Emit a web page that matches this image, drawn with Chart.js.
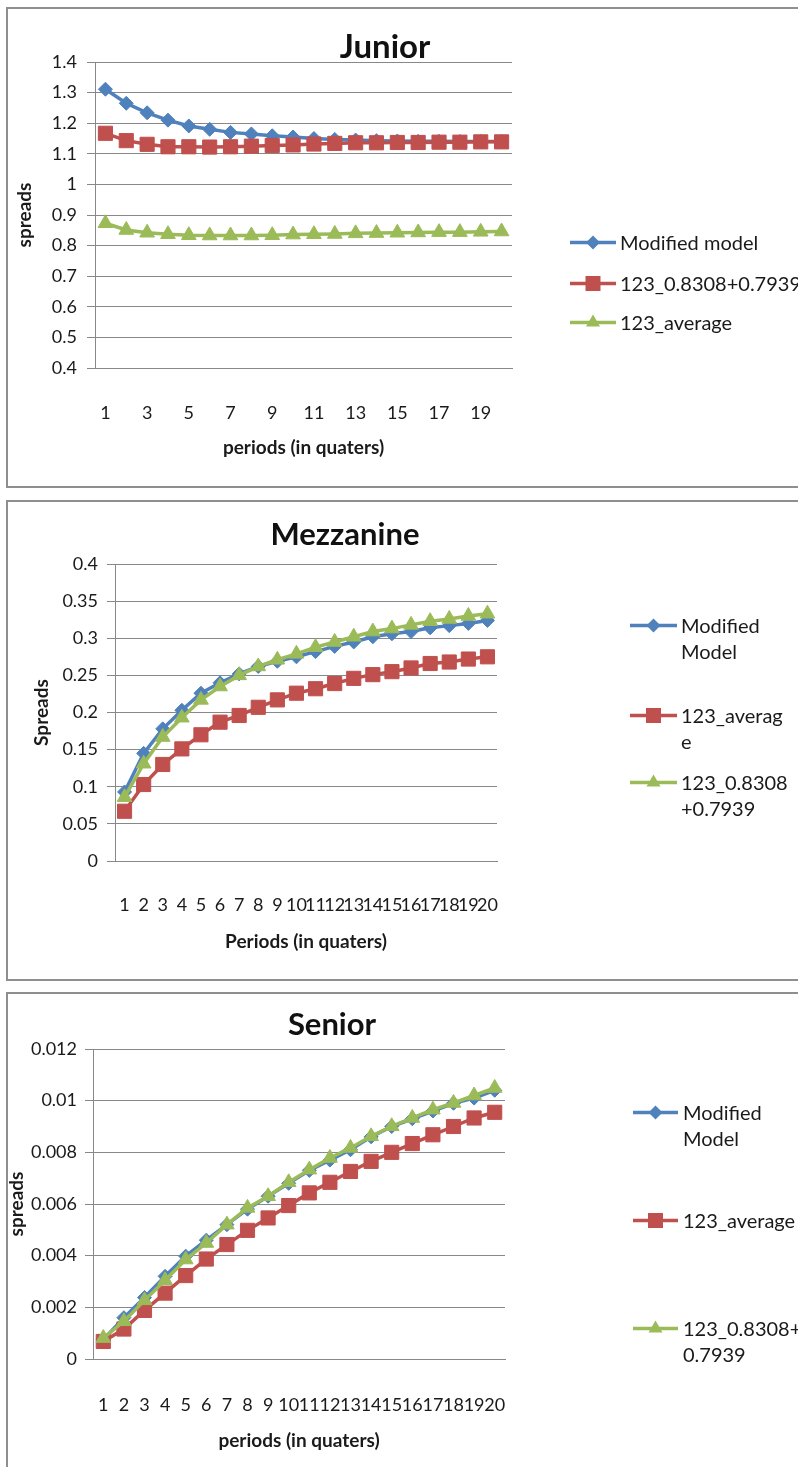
<!DOCTYPE html>
<html>
<head>
<meta charset="utf-8">
<script src="https://cdn.jsdelivr.net/npm/chart.js@4.4.1/dist/chart.umd.min.js"></script>
<style>
  html, body { margin: 0; padding: 0; background: #fff; }
  body { width: 798px; height: 1467px; position: relative; overflow: hidden; font-family: Lato, sans-serif; }
  .frame { position: absolute; left: 6px; width: 830px; border: 2px solid #8f8f8f; box-sizing: border-box; }
  canvas { position: absolute; left: 0; }
  .title { position: absolute; font-family: Lato; font-weight: bold; color: #111; transform: translate(-50%, -50%); white-space: nowrap; }
  .leg { position: absolute; height: 27px; font: 20px Lato; line-height: 26.5px; color: #1a1a1a; white-space: nowrap; }
  .leg svg { position: absolute; left: 0; top: 0; }
  .leg span { position: absolute; top: 0; }
</style>
</head>
<body>
<div class="frame" style="top:7px;height:481px"></div>
<div class="frame" style="top:500px;height:481px"></div>
<div class="frame" style="top:992px;height:520px"></div>
<canvas id="juniorChart"></canvas>
<canvas id="mezzChart"></canvas>
<canvas id="seniorChart"></canvas>
<script>
const periods = ['1', '2', '3', '4', '5', '6', '7', '8', '9', '10', '11', '12', '13', '14', '15', '16', '17', '18', '19', '20'];

// Junior tranche
const juniorNames = ['Modified model', '123_0.8308+0.7939', '123_average'];
const juniorModified = [1.311, 1.265, 1.234, 1.210, 1.191, 1.180, 1.170, 1.165, 1.159, 1.155, 1.150, 1.147, 1.145, 1.143, 1.142, 1.141, 1.141, 1.140, 1.140, 1.140];
const juniorCalibrated = [1.167, 1.143, 1.131, 1.123, 1.123, 1.122, 1.123, 1.125, 1.127, 1.129, 1.132, 1.134, 1.136, 1.136, 1.137, 1.137, 1.138, 1.138, 1.139, 1.139];
const juniorAverage = [0.873, 0.851, 0.842, 0.837, 0.834, 0.833, 0.833, 0.833, 0.834, 0.836, 0.837, 0.838, 0.840, 0.841, 0.842, 0.843, 0.844, 0.844, 0.845, 0.846];
const juniorYTicks = [0.4, 1.4, 0.1];

// Mezzanine tranche
const mezzNames = ['Modified Model', '123_average', '123_0.8308+0.7939'];
const mezzModified = [0.093, 0.145, 0.178, 0.203, 0.226, 0.240, 0.252, 0.262, 0.269, 0.275, 0.282, 0.289, 0.295, 0.302, 0.306, 0.309, 0.314, 0.317, 0.320, 0.324];
const mezzAverage = [0.067, 0.103, 0.130, 0.151, 0.170, 0.187, 0.196, 0.207, 0.217, 0.226, 0.232, 0.239, 0.246, 0.251, 0.255, 0.260, 0.266, 0.268, 0.272, 0.275];
const mezzCalibrated = [0.086, 0.131, 0.167, 0.193, 0.217, 0.235, 0.250, 0.262, 0.271, 0.279, 0.288, 0.295, 0.302, 0.309, 0.313, 0.318, 0.323, 0.326, 0.330, 0.333];
const mezzYTicks = [0, 0.4, 0.05];

// Senior tranche
const seniorNames = ['Modified Model', '123_average', '123_0.8308+0.7939'];
const seniorModified = [0.00075, 0.0016, 0.00238, 0.0032, 0.00398, 0.0046, 0.0052, 0.0058, 0.0063, 0.0068, 0.0073, 0.0077, 0.0081, 0.0086, 0.0090, 0.0093, 0.0096, 0.0099, 0.0101, 0.0104];
const seniorAverage = [0.00068, 0.00116, 0.00188, 0.00255, 0.00323, 0.00387, 0.00443, 0.00498, 0.00546, 0.00594, 0.00643, 0.00684, 0.00726, 0.00765, 0.0080, 0.00834, 0.00868, 0.0090, 0.00933, 0.00955];
const seniorCalibrated = [0.00081, 0.00146, 0.00227, 0.00305, 0.00385, 0.00449, 0.0052, 0.00585, 0.0063, 0.00684, 0.00733, 0.00778, 0.00817, 0.00862, 0.00901, 0.00933, 0.00965, 0.00991, 0.0102, 0.01049];
const seniorYTicks = [0, 0.012, 0.002];

const FONT = 'Lato';
const GRID = '#888888';
const TEXT = '#1a1a1a';
const COLORS = ['#4F81BD', '#C0504D', '#9BBB59'];
const MARKERS = ['rectRot', 'rect', 'triangle'];
const RADII = [7, 10, 8.5];
const TICK_SIZE = 18;
const AXIS_TITLE_SIZE = 19;

function buildChart(id, g, names, series, yTicks, yTitle, xTitle, everyOther) {
  const cv = document.getElementById(id);
  cv.style.top = g.top + 'px';
  cv.width = 798;
  cv.height = g.height;
  const tickH = TICK_SIZE * 1.2, titleH = AXIS_TITLE_SIZE * 1.2;
  const padLeft = g.yTitleX - titleH / 2;
  const xBottom = g.xTitleY - g.top + titleH / 2;
  return new Chart(cv.getContext('2d'), {
    type: 'line',
    data: {
      labels: periods,
      datasets: series.map((d, i) => ({
        label: names[i],
        data: d,
        borderColor: COLORS[i],
        backgroundColor: COLORS[i],
        pointStyle: MARKERS[i],
        pointRadius: RADII[i],
        pointBorderWidth: 1,
        borderWidth: 3.5,
        tension: 0,
        order: 3 - i
      }))
    },
    options: {
      responsive: false,
      animation: false,
      devicePixelRatio: 1,
      events: [],
      layout: { padding: { left: padLeft, right: 798 - g.right, top: g.plotTop - g.top, bottom: g.height - xBottom } },
      plugins: { legend: { display: false }, tooltip: { enabled: false } },
      scales: {
        x: {
          offset: true,
          grid: { display: false },
          border: { color: GRID, width: 1 },
          ticks: {
            autoSkip: false, maxRotation: 0, color: TEXT,
            font: { family: FONT, size: TICK_SIZE },
            padding: g.xTickY - g.plotBottom - tickH / 2,
            callback: (v, i) => (everyOther && i % 2) ? '' : periods[i]
          },
          title: { display: true, text: xTitle, color: TEXT, font: { family: FONT, size: AXIS_TITLE_SIZE, weight: 'bold' }, padding: 0 },
          afterFit: s => { s.height = xBottom - (g.plotBottom - g.top); }
        },
        y: {
          min: yTicks[0],
          max: yTicks[1],
          grid: { color: GRID, tickColor: GRID, tickLength: 8 },
          border: { color: GRID, width: 1 },
          ticks: {
            stepSize: yTicks[2], color: TEXT,
            font: { family: FONT, size: TICK_SIZE },
            padding: g.yTickPad,
            callback: v => String(parseFloat(Number(v).toFixed(6)))
          },
          title: { display: true, text: yTitle, color: TEXT, font: { family: FONT, size: AXIS_TITLE_SIZE, weight: 'bold' }, padding: 0 },
          afterFit: s => { s.width = g.left - padLeft; }
        }
      }
    }
  });
}

function svgMarker(i, len) {
  const cx = len / 2, cy = 13.5;
  let shape = '';
  if (i === 0) shape = `<polygon points="${cx - 7},${cy} ${cx},${cy - 7} ${cx + 7},${cy} ${cx},${cy + 7}" fill="${COLORS[i]}"/>`;
  if (i === 1) shape = `<rect x="${cx - 7.5}" y="${cy - 7.5}" width="15" height="15" fill="${COLORS[i]}"/>`;
  if (i === 2) shape = `<polygon points="${cx},${cy - 8} ${cx + 7},${cy + 4} ${cx - 7},${cy + 4}" fill="${COLORS[i]}"/>`;
  return `<svg width="${len}" height="27"><line x1="0" y1="${cy}" x2="${len}" y2="${cy}" stroke="${COLORS[i]}" stroke-width="3.5"/>${shape}</svg>`;
}

function buildLegend(lg, lines) {
  lines.forEach((txt, i) => {
    const row = document.createElement('div');
    row.className = 'leg';
    row.style.left = lg.x0 + 'px';
    row.style.top = (lg.rows[i] - 13.5) + 'px';
    row.innerHTML = svgMarker(i, lg.x1 - lg.x0) +
      `<span style="left:${lg.text - lg.x0}px">${txt.join('<br>')}</span>`;
    document.body.appendChild(row);
  });
}

function addTitle(text, x, y, size) {
  const t = document.createElement('div');
  t.className = 'title';
  t.textContent = text;
  t.style.fontSize = size + 'px';
  t.style.left = x + 'px';
  t.style.top = y + 'px';
  document.body.appendChild(t);
}

buildChart('juniorChart',
  { top: 0, height: 488, left: 95, right: 512, plotTop: 62, plotBottom: 368, yTitleX: 25, xTickY: 405, xTitleY: 448, yTickPad: 10 },
  juniorNames, [juniorModified, juniorCalibrated, juniorAverage], juniorYTicks,
  'spreads', 'periods (in quaters)', true);
addTitle('Junior', 385, 45, 33);
buildLegend({ x0: 570, x1: 616, text: 620, rows: [242, 283, 322] },
  [['Modified model'], ['123_0.8308+0.7939'], ['123_average']]);

buildChart('mezzChart',
  { top: 490, height: 490, left: 115, right: 497, plotTop: 564, plotBottom: 861, yTitleX: 42, xTickY: 897, xTitleY: 942, yTickPad: 9 },
  mezzNames, [mezzModified, mezzAverage, mezzCalibrated], mezzYTicks,
  'Spreads', 'Periods (in quaters)', false);
addTitle('Mezzanine', 345, 533, 31);
buildLegend({ x0: 630, x1: 677, text: 681, rows: [625, 715, 782] },
  [['Modified', 'Model'], ['123_averag', 'e'], ['123_0.8308', '+0.7939']]);

buildChart('seniorChart',
  { top: 990, height: 477, left: 93, right: 505, plotTop: 1049, plotBottom: 1359, yTitleX: 17, xTickY: 1397, xTitleY: 1441, yTickPad: 8 },
  seniorNames, [seniorModified, seniorAverage, seniorCalibrated], seniorYTicks,
  'spreads', 'periods (in quaters)', false);
addTitle('Senior', 332, 1023, 31);
buildLegend({ x0: 633, x1: 678, text: 683, rows: [1112, 1220, 1328] },
  [['Modified', 'Model'], ['123_average'], ['123_0.8308+', '0.7939']]);
</script>
</body>
</html>
